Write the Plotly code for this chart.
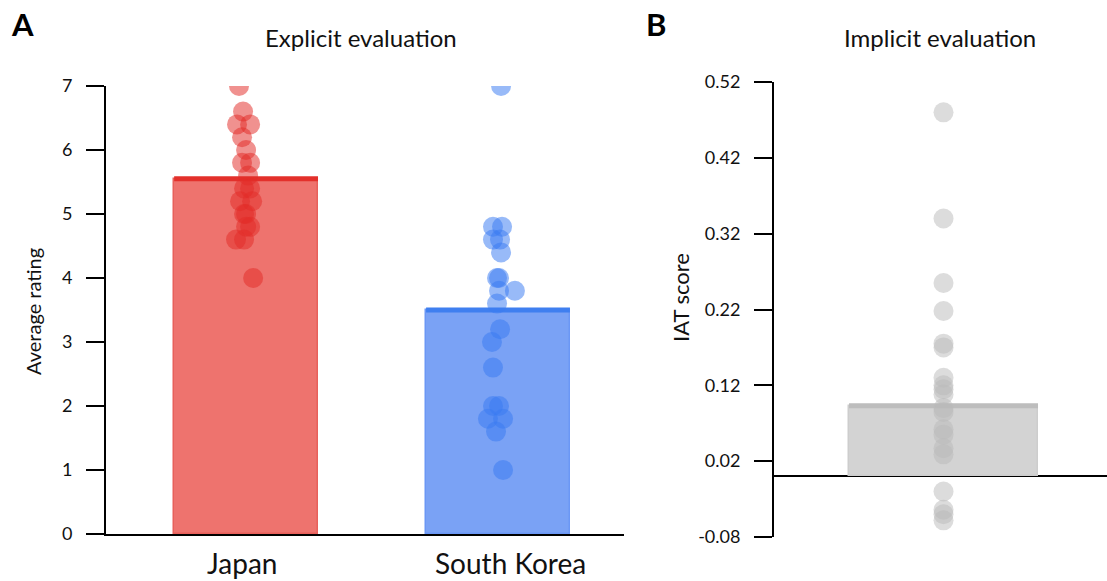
import plotly.graph_objects as go

# ---------------- data ----------------
categories = ["Japan", "South Korea"]

japan_ratings = [7.0, 6.6, 6.4, 6.4, 6.2, 6.0, 5.8, 5.8, 5.6, 5.4, 5.4, 5.2, 5.2, 5.0, 5.0, 4.8, 4.8, 4.6, 4.6, 4.0]
japan_jitter = [-0.028, -0.012, -0.036, 0.016, -0.016, 0.0, -0.016, 0.016, 0.008, -0.008, 0.016, -0.024, 0.024,
                -0.008, 0.0, 0.016, 0.0, -0.04, -0.008, 0.028]
japan_mean = 5.55

korea_ratings = [7.0, 4.8, 4.8, 4.6, 4.6, 4.4, 4.0, 4.0, 3.8, 3.8, 3.6, 3.2, 3.0, 2.6, 2.0, 2.0, 1.8, 1.8, 1.6, 1.0]
korea_jitter = [0.012, -0.02, 0.016, -0.02, 0.008, 0.012, -0.004, 0.004, 0.004, 0.067, -0.004, 0.008, -0.024,
                -0.02, -0.02, 0.004, -0.04, 0.02, -0.008, 0.02]
korea_mean = 3.5

iat_scores = [0.48, 0.34, 0.255, 0.218, 0.175, 0.17, 0.13, 0.12, 0.115, 0.108, 0.09, 0.085, 0.062, 0.055,
              0.037, 0.029, -0.02, -0.044, -0.05, -0.058]
iat_mean = 0.093

left_ticks = [0, 1, 2, 3, 4, 5, 6, 7]
right_ticks = [-0.08, 0.02, 0.12, 0.22, 0.32, 0.42, 0.52]
right_ticktext = ["-0.08", "0.02", "0.12", "0.22", "0.32", "0.42", "0.52"]

# ---------------- style ----------------
FONT = "Lato"
W, H = 1107, 581
bar_w_left = 0.571
bar_w_right = 1.0

fill_colors = ["#ee736e", "#7aa2f5"]
edge_colors = ["#e8605b", "#6b97f5"]
band_colors = ["#e3302b", "#3f7ff0"]
dot_colors = ["rgba(226,45,41,0.52)", "rgba(58,122,242,0.52)"]

fig = go.Figure()

means = [japan_mean, korea_mean]
ratings = [japan_ratings, korea_ratings]
jitters = [japan_jitter, korea_jitter]

for i, cat in enumerate(categories):
    fig.add_trace(go.Bar(x=[i], y=[means[i]], width=bar_w_left,
                         marker=dict(color=fill_colors[i], line=dict(color=edge_colors[i], width=1.5)),
                         xaxis="x", yaxis="y", showlegend=False, hoverinfo="skip"))
    fig.add_trace(go.Scatter(x=[i - bar_w_left / 2, i + bar_w_left / 2], y=[means[i], means[i]],
                             mode="lines", line=dict(color=band_colors[i], width=5),
                             xaxis="x", yaxis="y", showlegend=False, hoverinfo="skip"))
    fig.add_trace(go.Scatter(x=[i + j for j in jitters[i]], y=ratings[i], mode="markers",
                             marker=dict(size=20, color=dot_colors[i], line=dict(width=0)),
                             xaxis="x", yaxis="y", showlegend=False, name=cat))

# right panel
fig.add_trace(go.Bar(x=[0], y=[iat_mean], width=bar_w_right,
                     marker=dict(color="#d3d3d3", line=dict(color="#cdcdcd", width=1.5)),
                     xaxis="x2", yaxis="y2", showlegend=False, hoverinfo="skip"))
fig.add_trace(go.Scatter(x=[-bar_w_right / 2, bar_w_right / 2], y=[iat_mean, iat_mean],
                         mode="lines", line=dict(color="#bdbdbd", width=5),
                         xaxis="x2", yaxis="y2", showlegend=False, hoverinfo="skip"))
fig.add_trace(go.Scatter(x=[0] * len(iat_scores), y=iat_scores, mode="markers",
                         marker=dict(size=20, color="rgba(185,185,185,0.5)", line=dict(width=0)),
                         xaxis="x2", yaxis="y2", showlegend=False))

tickfont = dict(family=FONT, size=18, color="#111")

fig.update_layout(
    width=W, height=H,
    margin=dict(l=0, r=0, t=0, b=0, autoexpand=False),
    paper_bgcolor="white", plot_bgcolor="white",
    font=dict(family=FONT, color="#111"),
    xaxis=dict(domain=[106 / W, 624 / W], range=[-0.556, 1.5], showline=True, linecolor="black",
               linewidth=2, showgrid=False, zeroline=False, showticklabels=False, ticks="",
               anchor="y", automargin=False),
    yaxis=dict(domain=[(H - 534) / H, (H - 86) / H], range=[0, 7], tickvals=left_ticks,
               showline=True, linecolor="black", linewidth=2, ticks="outside", ticklen=18,
               tickwidth=2, tickcolor="black", showgrid=False, zeroline=False, tickfont=tickfont,
               ticklabelstandoff=10, anchor="x", automargin=False),
    xaxis2=dict(domain=[774 / W, 1.0], range=[-0.897, 0.865], visible=False, anchor="y2",
                automargin=False),
    yaxis2=dict(domain=[(H - 537) / H, (H - 82) / H], range=[-0.08, 0.52], tickvals=right_ticks,
                ticktext=right_ticktext, showline=True, linecolor="black", linewidth=2,
                ticks="outside", ticklen=18, tickwidth=2, tickcolor="black", showgrid=False,
                zeroline=True, zerolinecolor="black", zerolinewidth=2, tickfont=tickfont,
                ticklabelstandoff=10, anchor="x2", automargin=False),
    bargap=0,
)

ann = []
ann.append(dict(text="<b>A</b>", x=22 / W, y=1 - 24 / H, xref="paper", yref="paper", showarrow=False,
                font=dict(family=FONT, size=31, color="black"), xanchor="center", yanchor="middle"))
ann.append(dict(text="<b>B</b>", x=656 / W, y=1 - 24 / H, xref="paper", yref="paper", showarrow=False,
                font=dict(family=FONT, size=31, color="black"), xanchor="center", yanchor="middle"))
ann.append(dict(text="Explicit evaluation", x=361 / W, y=1 - 37 / H, xref="paper", yref="paper",
                showarrow=False, font=dict(family=FONT, size=24, color="#111"),
                xanchor="center", yanchor="middle"))
ann.append(dict(text="Implicit evaluation", x=940 / W, y=1 - 37 / H, xref="paper", yref="paper",
                showarrow=False, font=dict(family=FONT, size=24, color="#111"),
                xanchor="center", yanchor="middle"))
ann.append(dict(text="Average rating", x=33 / W, y=1 - 312 / H, xref="paper", yref="paper",
                showarrow=False, textangle=-90, font=dict(family=FONT, size=20, color="#111"),
                xanchor="center", yanchor="middle"))
ann.append(dict(text="IAT score", x=680 / W, y=1 - 298 / H, xref="paper", yref="paper",
                showarrow=False, textangle=-90, font=dict(family=FONT, size=22, color="#111"),
                xanchor="center", yanchor="middle"))
shifts = [-4, 12]
for i, cat in enumerate(categories):
    ann.append(dict(text=cat, x=i, y=1 - 563 / H, xref="x", yref="paper", xshift=shifts[i],
                    showarrow=False, font=dict(family=FONT, size=28, color="#111"),
                    xanchor="center", yanchor="middle"))
fig.update_layout(annotations=ann)

fig.write_html("out.html", config={"displayModeBar": False},
               post_script="document.body.style.margin='0';document.body.style.overflow='hidden';")
